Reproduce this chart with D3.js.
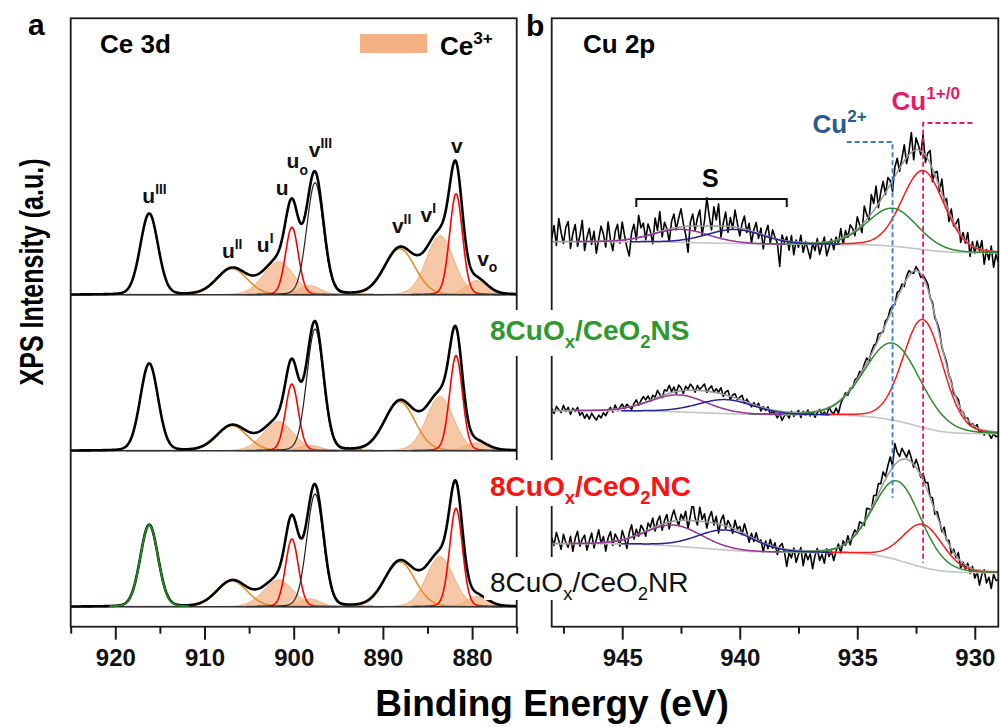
<!DOCTYPE html>
<html>
<head>
<meta charset="utf-8">
<script src="https://cdn.jsdelivr.net/npm/d3@7/dist/d3.min.js"></script>
<style>
  body { margin: 0; background: #fff; }
  svg { font-family: "Liberation Sans", Arial, sans-serif; }
</style>
</head>
<body>
<svg id="chart" width="1000" height="727"></svg>
<script>
//---- Ce 3d fit (panel a) ----
var cePeaks  = ["u'''", "u''", "u'", "u", "u0", "v'''", "v''", "v'", "v", "v0"];
var ceCenter = [916.2, 906.9, 901.7, 900.2, 898.2, 897.6, 888.1, 883.6, 881.8, 879.5];
var ceFwhm   = [2.35, 4.0, 4.0, 1.7, 2.8, 2.2, 4.0, 3.6, 1.7, 2.8];
var ceKind   = ["u3", "ce4", "ce3", "main", "ce3", "v3", "ce4", "ce3", "main", "ce3"];
//peak heights, one list per spectrum (top, middle, bottom)
var ceHeightTop = [5.19, 1.67, 2.12, 4.33, 0.58, 7.18, 2.95, 3.78, 6.47, 0.90];
var ceHeightMid = [5.58, 1.60, 1.86, 4.27, 0.35, 7.80, 3.14, 3.46, 6.09, 0.50];
var ceHeightBot = [5.24, 1.65, 1.71, 4.34, 0.51, 7.22, 2.88, 3.21, 6.31, 0.64];
var ceOffsets = [20, 10, 0];
var ceTicksMajor = [920, 910, 900, 890, 880];
var ceTicksMinor = [925, 915, 905, 895, 885, 875];

//peak labels: letter, superscript, subscript, energy, height
var ceLabelBase = ["u", "u", "u", "u", "u", "v", "v", "v", "v", "v"];
var ceLabelSup  = ["III", "II", "I", "", "", "III", "II", "I", "", ""];
var ceLabelSub  = ["", "", "", "", "o", "", "", "", "", "o"];
var ceLabelE    = [915.6, 906.9, 903.2, 901.3, 899.6, 897.0, 887.9, 884.9, 881.7, 878.3];
var ceLabelV    = [25.9, 22.35, 22.75, 26.4, 28.1, 28.85, 23.95, 24.65, 29.1, 21.85];

//---- Cu 2p fit (panel b) ----
var cuNames = ["Cu1+/0", "Cu2+", "sat1", "sat2"];
var cuColors = ["#ff1a1a", "#2e8b2e", "#993399", "#23239b"];
var cuCenterTop = [932.2, 933.5, 942.5, 940.2];
var cuCenterMid = [932.2, 933.5, 942.6, 940.6];
var cuCenterBot = [932.2, 933.3, 942.8, 940.6];
var cuHeightTop = [7.9, 3.8, 1.3, 1.4];
var cuHeightMid = [10.8, 7.7, 1.7, 1.4];
var cuHeightBot = [4.3, 7.9, 2.1, 2.0];
var cuFwhmTop = [2.1, 2.5, 2.8, 2.8];
var cuFwhmMid = [2.0, 2.8, 2.8, 2.8];
var cuFwhmBot = [2.0, 2.4, 2.8, 2.8];
//background level at high and low binding energy end
var cuBgHigh = [38.5, 21.6, 8.3];
var cuBgLow  = [37.4, 19.3, 5.4];
var cuTicksMajor = [945, 940, 935, 930];
var cuTicksMinor = [947.5, 942.5, 937.5, 932.5];

//measured counts minus fit, every 0.1 eV from 948 eV down to 929 eV
var cuResTop = [
  0.3, 1.6, -0.4, 2.3, 0.9, -0.2, 1.4, 2.0, -0.7, 0.8,
  1.7, -0.5, 0.6, 2.1, -0.9, 0.4, 1.3, -0.3, 1.0, -1.2,
  0.2, 1.5, 0.7, -0.6, 1.9, 0.1, -1.0, 0.9, 1.6, -0.3,
  1.8, 0.4, -0.8, -1.7, 0.6, 1.4, -0.2, 2.2, 0.9, 1.3,
  -0.4, 1.1, 0.3, -1.0, 1.5, 0.2, 2.0, -0.6, 0.8, 0.1,
  -1.3, 0.7, 1.4, -0.2, 0.9, 1.8, 0.3, -0.8, -2.6, 0.4,
  1.2, -0.5, 0.8, 1.6, -0.9, 0.5, 2.8, 1.0, -0.4, 1.9,
  0.6, 2.2, -1.1, 0.3, 1.4, -0.6, 0.9, -0.2, 1.7, 0.4,
  -0.8, 0.5, 1.3, -0.3, 0.7, -1.2, 0.2, 1.0, -0.5, 0.6,
  -1.4, 0.3, 1.1, -0.6, 0.8, 0.1, -0.4, -2.7, 0.5, -0.2,
  0.4, -0.9, 0.6, -1.3, 0.2, -0.5, 0.7, -1.0, 0.1, -0.7,
  -1.6, 0.0, -0.8, 0.4, -1.2, -0.3, 0.5, -1.4, -0.6, 0.2,
  -0.9, 0.3, -0.4, 1.0, -0.7, 0.6, -0.2, 0.9, 0.4, -0.5,
  1.2, 0.2, -0.8, 1.6, 0.5, -0.3, 1.9, 0.7, 2.1, -0.4,
  0.8, 1.5, -0.2, 1.1, 0.4, -1.1, 0.9, 1.4, -0.3, 0.6,
  1.6, -0.6, 0.3, 2.0, -0.9, 1.2, 0.5, -0.4, 1.8, -0.7,
  0.6, 1.3, -1.3, 0.2, 0.9, -0.5, 1.4, -0.2, 0.7, -1.0,
  0.8, -0.4, 0.3, 1.2, -0.8, 0.5, -0.3, 1.0, -1.2, 0.4,
  -0.6, 0.7, -0.2, 0.9, -1.4, 0.1, -0.9, 0.5, -1.6, -0.3,
  -1.1];
var cuResMid = [
  0.2, -0.3, 0.4, 0.1, -0.2, 0.5, -0.1, 0.3, -0.4, 0.2,
  -0.1, 0.3, -0.5, -0.2, -0.8, -0.4, -0.9, -0.3, -0.7, -1.0,
  -0.5, -0.8, -0.3, -0.6, -0.1, 0.2, -0.3, 0.4, -0.2, 0.1,
  0.4, -0.1, 0.3, 0.0, -0.3, 0.2, 0.5, -0.1, 0.3, 0.6,
  0.2, 0.5, -0.1, 0.4, 0.1, 0.7, 0.2, -0.2, 0.5, 0.3,
  0.8, 0.1, 0.5, -0.2, 0.6, 0.3, -0.3, 0.4, 0.1, 0.6,
  0.3, -0.2, 0.5, 0.1, 0.4, 0.7, -0.1, 0.3, 0.6, 0.0,
  0.4, 0.1, 0.6, -0.2, 0.3, 0.5, -0.3, 0.2, 0.4, -0.1,
  0.2, 0.5, -0.2, 0.3, 0.0, -0.3, 0.2, -0.1, 0.3, -0.4,
  0.1, -0.2, 0.2, -0.5, -0.1, -0.3, -0.7, -0.2, -0.9, -0.4,
  -0.2, -0.6, 0.1, -0.4, -0.1, 0.2, -0.5, 0.1, -0.3, 0.2,
  -0.4, 0.0, -0.6, -0.2, 0.1, -0.5, -0.3, -0.7, 0.0, -0.6,
  -0.9, -0.5, -1.2, -0.4, -0.1, 0.2, -0.3, 0.1, -0.2, 0.3,
  0.1, 0.4, -0.1, 0.3, 0.5, -0.2, 0.2, 0.4, 0.1, 0.6,
  0.2, -0.2, 0.4, 0.1, 0.5, 0.3, -0.1, 0.6, 0.2, 0.4,
  -0.3, 0.3, 0.5, 0.0, -0.2, 0.4, 0.1, -0.4, 0.2, 0.3,
  0.5, -0.1, 0.3, -0.3, 0.2, 0.4, -0.2, 0.1, 0.3, -0.1,
  0.2, -0.3, 0.1, 0.4, -0.2, 0.1, -0.1, 0.2, -0.3, 0.1,
  -0.1, 0.3, -0.4, -0.1, -0.5, 0.0, -0.3, -0.7, -0.2, -0.5,
  -0.4];
var cuResBot = [
  0.6, -0.2, 1.1, 0.3, -0.6, 0.9, 0.1, -0.4, 0.7, -0.8,
  0.5, 1.2, -0.3, 0.4, 0.8, -0.7, 0.2, 1.0, -0.5, 0.3,
  1.3, -0.1, 0.6, -0.9, 0.4, 1.0, -0.4, 0.7, 0.2, -0.6,
  0.9, 0.1, -1.0, 0.5, 1.2, -0.3, 0.6, -0.2, 0.8, 0.3,
  -0.5, 0.7, 0.2, 1.0, -0.4, 0.5, 0.9, -0.6, 0.3, 0.8,
  -0.7, 0.4, 1.1, 0.2, -0.5, 0.6, 0.1, 0.9, -0.8, 0.5,
  1.9, 0.3, -0.4, 1.4, 0.2, 0.8, -0.6, 0.5, 1.1, -0.2,
  0.7, -0.9, 0.4, 1.0, -0.3, 0.6, 0.2, -0.5, 0.9, 0.1,
  0.5, -0.2, 1.0, 0.3, -0.6, 0.4, -0.3, 0.7, -0.1, 0.2,
  -0.9, 0.3, -0.4, 0.6, -0.2, 0.4, -0.7, 0.2, 0.5, -0.3,
  -1.7, -0.3, -0.8, 0.2, -1.2, -0.4, 0.3, -1.5, -0.2, -0.9,
  -0.3, -1.8, -0.5, 0.2, -1.0, -0.4, -1.3, 0.1, -0.7, -0.2,
  -1.2, -0.3, 0.3, -0.7, 0.4, -0.2, 0.6, -0.5, 0.2, 0.5,
  -0.1, 0.7, 0.2, -0.4, 0.9, 0.4, -0.2, 0.8, 0.3, 1.0,
  0.5, 1.2, 0.3, 0.9, 1.4, 0.2, 2.1, 1.0, 0.4, 1.1,
  0.6, 0.2, 1.0, 0.4, -0.3, 0.8, 0.5, -0.2, 0.7, 0.3,
  0.9, 0.1, 0.6, -0.4, 0.5, 0.2, -0.3, 0.7, -0.1, 0.4,
  -0.5, 0.3, -0.2, 0.6, -0.7, 0.1, -0.4, 0.3, -0.6, 0.2,
  -0.9, -0.2, -1.5, -0.4, 0.1, -1.2, -0.6, -1.7, -0.3, -0.9,
  -0.8];
var cuResStep = 0.1;

var sampleNames  = ["8CuOx/CeO2NS", "8CuOx/CeO2NC", "8CuOx/CeO2NR"];
var sampleColors = ["#2e9a2e", "#ff1111", "#111111"];

//General settings
var eta = 0.1; //Lorentzian share of the line shape
var frameTop = 18.3, frameBottom = 626.7;
var svg = d3.select("#chart");

var xA = d3.scaleLinear().domain([925, 875]).range([70.7, 516.7]);
var xB = d3.scaleLinear().domain([948, 929]).range([551.7, 998.3]);
var yA = d3.scaleLinear().domain([-1.28, 37.72]).range([frameBottom, frameTop]);
var yB = d3.scaleLinear().domain([0, 60.84]).range([frameBottom, frameTop]);

function pv(e, c, h, w) {
  var x = (e - c) / (w / 2);
  return h * ((1 - eta) * Math.exp(-Math.LN2 * x * x) + eta / (1 + x * x));
}

//Clip paths
var defs = svg.append("defs");
defs.append("clipPath").attr("id", "clipA").append("rect")
  .attr("x", xA(925)).attr("y", frameTop).attr("width", xA(875) - xA(925)).attr("height", frameBottom - frameTop);
defs.append("clipPath").attr("id", "clipB").append("rect")
  .attr("x", xB(948)).attr("y", frameTop).attr("width", xB(929) - xB(948)).attr("height", frameBottom - frameTop);

//==== Panel a ====
var gA = svg.append("g").attr("clip-path", "url(#clipA)");
var ceHeights = [ceHeightTop, ceHeightMid, ceHeightBot];
var gridA = d3.range(925, 874.99, -0.05);

ceHeights.forEach(function(hs, s) {
  var off = ceOffsets[s];
  function compLine(k) {
    return d3.line().x(function(e) { return xA(e); })
      .y(function(e) { return yA(off + pv(e, ceCenter[k], hs[k], ceFwhm[k])); });
  }
  function near(k, span) {
    return gridA.filter(function(e) { return Math.abs(e - ceCenter[k]) < span * ceFwhm[k]; });
  }
  //filled Ce3+ components first
  ceCenter.forEach(function(c, k) {
    if (ceKind[k] !== "ce3") return;
    gA.append("path").datum(near(k, 3))
      .attr("fill", "#f4b183").attr("fill-opacity", 0.7)
      .attr("stroke", "#f2a96e").attr("stroke-width", 1)
      .attr("d", d3.area().x(function(e) { return xA(e); })
        .y0(yA(off))
        .y1(function(e) { return yA(off + pv(e, c, hs[k], ceFwhm[k])); }));
  });
  //line components
  ceCenter.forEach(function(c, k) {
    var kind = ceKind[k];
    if (kind === "ce3" || kind === "u3") return;
    var col = kind === "main" ? "#ff0000" : kind === "ce4" ? "#e0902a" : "#222";
    gA.append("path").datum(near(k, 3))
      .attr("fill", "none").attr("stroke", col)
      .attr("stroke-width", kind === "v3" ? 1.2 : 1.6)
      .attr("d", compLine(k));
  });
  //baseline
  gA.append("line")
    .attr("x1", xA(925)).attr("x2", xA(875))
    .attr("y1", yA(off)).attr("y2", yA(off))
    .attr("stroke", "#333").attr("stroke-width", 1.5);
  //envelope
  gA.append("path").datum(gridA)
    .attr("fill", "none").attr("stroke", "#000").attr("stroke-width", 2.6)
    .attr("stroke-linejoin", "round")
    .attr("d", d3.line().x(function(e) { return xA(e); })
      .y(function(e) {
        var v = off;
        ceCenter.forEach(function(c, k) { v += pv(e, c, hs[k], ceFwhm[k]); });
        return yA(v);
      }));
  //u''' component, shown in green on the lowest spectrum
  if (s === 2) {
    gA.append("path").datum(near(0, 1.9))
      .attr("fill", "none").attr("stroke", "#1e8c1e").attr("stroke-width", 1.8)
      .attr("d", compLine(0));
  }
});

//==== Panel b ====
var gB = svg.append("g").attr("clip-path", "url(#clipB)");
var cuCenters = [cuCenterTop, cuCenterMid, cuCenterBot];
var cuHeights = [cuHeightTop, cuHeightMid, cuHeightBot];
var cuFwhms = [cuFwhmTop, cuFwhmMid, cuFwhmBot];
var cuRes = [cuResTop, cuResMid, cuResBot];
var cuSpan = [2.2, 2.2, 1.6, 1.6];
var gridB = d3.range(929, 948.001, 0.02);

[0, 1, 2].forEach(function(s) {
  var cs = cuCenters[s], hs = cuHeights[s], ws = cuFwhms[s];
  function peaks(e) {
    var v = 0;
    cs.forEach(function(c, k) { v += pv(e, c, hs[k], ws[k]); });
    return v;
  }
  //Shirley background from the cumulative peak area
  var cum = [], acc = 0;
  gridB.forEach(function(e) { acc += peaks(e); cum.push(acc); });
  function bg(e) {
    var i = Math.max(0, Math.min(gridB.length - 1, Math.round((e - 929) / 0.02)));
    return cuBgLow[s] + (cuBgHigh[s] - cuBgLow[s]) * cum[i] / acc;
  }
  function fit(e) { return bg(e) + peaks(e); }

  var fine = gridB.filter(function(e, i) { return i % 2 === 0; });
  var raw = cuRes[s].map(function(r, i) {
    var e = 948 - cuResStep * i;
    return { e: e, v: fit(e) + r };
  });

  gB.append("path").datum(raw)
    .attr("fill", "none").attr("stroke", "#000").attr("stroke-width", 1.6)
    .attr("stroke-linejoin", "round")
    .attr("d", d3.line().x(function(d) { return xB(d.e); }).y(function(d) { return yB(d.v); }));

  gB.append("path").datum(fine)
    .attr("fill", "none").attr("stroke", "#c4c4c4").attr("stroke-width", 1.6)
    .attr("d", d3.line().x(function(e) { return xB(e); }).y(function(e) { return yB(bg(e)); }));

  gB.append("path").datum(fine)
    .attr("fill", "none").attr("stroke", "#9a9a9a").attr("stroke-width", 1.5)
    .attr("d", d3.line().x(function(e) { return xB(e); }).y(function(e) { return yB(fit(e)); }));

  cs.forEach(function(c, k) {
    var pts = fine.filter(function(e) { return Math.abs(e - c) < cuSpan[k] * ws[k]; });
    gB.append("path").datum(pts)
      .attr("fill", "none").attr("stroke", cuColors[k]).attr("stroke-width", 1.5)
      .attr("d", d3.line().x(function(e) { return xB(e); })
        .y(function(e) { return yB(bg(e) + pv(e, c, hs[k], ws[k])); }));
  });
});

//Cu 2p annotations
var dashB = svg.append("g");
dashB.append("path")
  .attr("d", d3.line()([[xB(935.45), yB(48.47)], [xB(933.5), yB(48.47)], [xB(933.5), yB(12.87)]]))
  .attr("fill", "none").attr("stroke", "#3c7cc4").attr("stroke-width", 1.8).attr("stroke-dasharray", "5,3");
dashB.append("path")
  .attr("d", d3.line()([[xB(930.1), yB(50.37)], [xB(932.2), yB(50.37)], [xB(932.2), yB(6.4)]]))
  .attr("fill", "none").attr("stroke", "#e8196a").attr("stroke-width", 1.8).attr("stroke-dasharray", "5,3");
//S bracket
dashB.append("path")
  .attr("d", d3.line()([[xB(944.4), yB(41.97)], [xB(944.4), yB(42.77)], [xB(938.0), yB(42.77)], [xB(938.0), yB(41.97)]]))
  .attr("fill", "none").attr("stroke", "#111").attr("stroke-width", 2);

function rich(t, parts, fs) {
  var shift = 0;
  parts.forEach(function(p) {
    if (!p.t) return;
    var target = p.sup ? -fs * 0.42 : p.sub ? fs * 0.3 : 0;
    t.append("tspan").attr("dy", target - shift)
      .attr("font-size", (p.sup || p.sub) ? fs * 0.66 : fs).text(p.t);
    shift = target;
  });
  return t;
}

svg.append("text").attr("x", xB(941.25)).attr("y", yB(43.95))
  .attr("text-anchor", "middle").attr("font-size", 25).attr("font-weight", "bold").text("S");
rich(svg.append("text").attr("x", xB(936.9)).attr("y", yB(49.37))
  .attr("font-weight", "bold").attr("fill", "#2b5a8c"), [{t: "Cu"}, {t: "2+", sup: true}], 26);
rich(svg.append("text").attr("x", xB(933.54)).attr("y", yB(51.67))
  .attr("font-weight", "bold").attr("fill", "#e8196a"), [{t: "Cu"}, {t: "1+/0", sup: true}], 26);

//Ce 3d peak labels
ceLabelBase.forEach(function(b, i) {
  rich(svg.append("text").attr("x", xA(ceLabelE[i])).attr("y", yA(ceLabelV[i]))
    .attr("text-anchor", "middle").attr("font-weight", "bold").attr("fill", "#111"),
    [{t: b}, {t: ceLabelSup[i], sup: true}, {t: ceLabelSub[i], sub: true}], 21);
});

//Frames
svg.append("rect").attr("x", xA(925)).attr("y", frameTop)
  .attr("width", xA(875) - xA(925)).attr("height", frameBottom - frameTop)
  .attr("fill", "none").attr("stroke", "#1a1a1a").attr("stroke-width", 1.8);
svg.append("rect").attr("x", xB(948)).attr("y", frameTop)
  .attr("width", xB(929) - xB(948)).attr("height", frameBottom - frameTop)
  .attr("fill", "none").attr("stroke", "#1a1a1a").attr("stroke-width", 1.8);

//Axes
function drawAxis(scale, major, minor) {
  var g = svg.append("g").attr("transform", "translate(0," + frameBottom + ")");
  g.call(d3.axisBottom(scale).tickValues(major).tickSize(13).tickPadding(9).tickFormat(d3.format("d")));
  g.append("g").call(d3.axisBottom(scale).tickValues(minor).tickSize(7).tickFormat(""));
  g.selectAll(".domain").remove();
  g.selectAll(".tick line").attr("stroke", "#1a1a1a").attr("stroke-width", 2);
  g.selectAll(".tick text").attr("font-size", 24).attr("font-weight", "bold")
    .attr("font-family", "'Liberation Sans', Arial, sans-serif").attr("fill", "#111");
}
drawAxis(xA, ceTicksMajor, ceTicksMinor);
drawAxis(xB, cuTicksMajor, cuTicksMinor);

//Sample labels sit across both panels on white boxes
var labelBase = [340, 496, 592];
var labelBoxTop = [310, 460, 557];
var labelBoxBottom = [356, 506, 600];
sampleNames.forEach(function(n, i) {
  svg.append("rect").attr("x", 484).attr("y", labelBoxTop[i])
    .attr("width", 216).attr("height", labelBoxBottom[i] - labelBoxTop[i]).attr("fill", "#fff");
  var m = n.match(/^(8CuO)(x)(\/CeO)(2)(N.)$/);
  rich(svg.append("text").attr("x", 490).attr("y", labelBase[i])
    .attr("font-weight", i === 2 ? "normal" : "bold").attr("fill", sampleColors[i]),
    [{t: m[1]}, {t: m[2], sub: true}, {t: m[3]}, {t: m[4], sub: true}, {t: m[5]}], 28);
});

//Panel titles and legend
svg.append("text").attr("x", 28).attr("y", 35).attr("font-size", 30).attr("font-weight", "bold").text("a");
svg.append("text").attr("x", 526).attr("y", 36).attr("font-size", 30).attr("font-weight", "bold").text("b");
svg.append("text").attr("x", 100).attr("y", 53).attr("font-size", 26).attr("font-weight", "bold").text("Ce 3d");
svg.append("text").attr("x", 583).attr("y", 53).attr("font-size", 26).attr("font-weight", "bold").text("Cu 2p");
svg.append("rect").attr("x", 360).attr("y", 34).attr("width", 67).attr("height", 19).attr("fill", "#f4b183");
rich(svg.append("text").attr("x", 440).attr("y", 55).attr("font-weight", "bold"),
  [{t: "Ce"}, {t: "3+", sup: true}], 26);

//Axis titles
svg.append("text").attr("x", 552).attr("y", 716).attr("text-anchor", "middle")
  .attr("font-size", 37).attr("font-weight", "bold").text("Binding Energy (eV)");
svg.append("text").attr("transform", "translate(43,272) rotate(-90)").attr("text-anchor", "middle")
  .attr("font-size", 33).attr("font-weight", "bold")
  .attr("textLength", 227).attr("lengthAdjust", "spacingAndGlyphs")
  .text("XPS Intensity (a.u.)");
</script>
</body>
</html>
